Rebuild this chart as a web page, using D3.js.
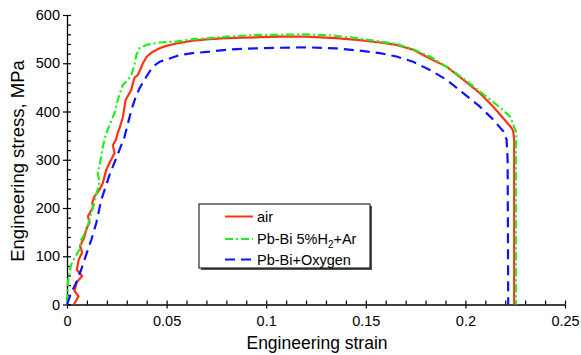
<!DOCTYPE html>
<html><head><meta charset="utf-8">
<script src="https://cdn.jsdelivr.net/npm/d3@7"></script>
<style>
html,body{margin:0;padding:0;background:#fff;}
svg{display:block;font-family:"Liberation Sans",Arial,Helvetica,sans-serif;}
</style></head>
<body>
<svg id="chart" width="581" height="355"></svg>
<script>
// ---- data ----
const seriesNames = ["air", "Pb-Bi 5%H2+Ar", "Pb-Bi+Oxygen"];
const airStrain = [0.0035,0.0058,0.0038,0.0049,0.0076,0.0049,0.0059,0.0076,0.0066,0.0088,0.0096,0.0113,0.0105,0.013,0.0127,0.0138,0.0163,0.018,0.0188,0.0197,0.0215,0.0239,0.023,0.0245,0.0255,0.0264,0.028,0.0289,0.0294,0.0323,0.0331,0.0339,0.0356,0.0364,0.0381,0.0401,0.0431,0.0465,0.0498,0.0549,0.0632,0.0716,0.08,0.0883,0.0967,0.1068,0.12,0.135,0.147,0.157,0.1654,0.1738,0.1822,0.1905,0.1989,0.2073,0.214,0.219,0.2232,0.224,0.2245,0.2245];
const airStress = [0,17,28,46,59,72,93,108,121,141,155,170,183,201,211,224,238,252,265,279,295,314,330,341,356,366,387,410,424,445,459,470,476,483,500,514,524,531,536,541,547,550,552,553,554,555,555,552,548,543,538,528,510,493,466,438,410,386,366,359,341,0];
const h2Strain = [0,0.0004,0.0013,0.0021,0.0038,0.0063,0.0071,0.0096,0.0113,0.0122,0.0138,0.0147,0.0163,0.0155,0.0172,0.018,0.0197,0.0214,0.0239,0.0255,0.028,0.0306,0.0323,0.0339,0.0348,0.0364,0.0398,0.0465,0.0549,0.0632,0.0716,0.08,0.0883,0.0967,0.1068,0.12,0.135,0.147,0.157,0.1654,0.1738,0.1822,0.1905,0.1989,0.2073,0.2157,0.2224,0.2257,0.2254,0.2254];
const h2Stress = [5,45,69,83,97,114,134,152,176,190,211,228,252,272,307,328,355,372,397,424,455,466,476,497,517,531,538,543,545,550,552,555,557,559,559,560,557,551,545,540,529,514,493,469,441,414,390,355,335,0];
const oxStrain = [0,0.0021,0.0046,0.0071,0.0096,0.0122,0.0147,0.0172,0.0214,0.0264,0.0289,0.0323,0.0345,0.0364,0.0398,0.0431,0.0465,0.0515,0.0565,0.0632,0.0716,0.08,0.0883,0.0967,0.1051,0.12,0.135,0.147,0.157,0.1654,0.1738,0.1822,0.1905,0.1989,0.2073,0.214,0.219,0.2207,0.2212,0.2215];
const oxStress = [0,24,45,72,103,134,169,217,269,321,348,403,430,448,472,493,503,510,517,521,524,528,530,531,532,533,531,526,521,514,503,486,466,438,410,383,359,341,300,0];
const xMajorTicks = [0,0.05,0.1,0.15,0.2,0.25];
const xTickLabels = ["0","0.05","0.1","0.15","0.2","0.25"];
const yMajorTicks = [0,100,200,300,400,500,600];
const yTickLabels = ["0","100","200","300","400","500","600"];

// ---- layout ----
const svg = d3.select("#chart");
const x = d3.scaleLinear().domain([0,0.25]).range([67,565]);
const y = d3.scaleLinear().domain([0,600]).range([304.5,15]);
const xMinor = d3.range(0,0.2501,0.01);
const yMinor = d3.range(0,601,20);

const axG = svg.append("g");
// inward ticks (all)
axG.append("g").attr("transform","translate(0,"+y(0)+")")
  .call(d3.axisBottom(x).tickValues(xMinor).tickSize(-4).tickSizeOuter(0).tickFormat(""))
  .call(g=>g.select(".domain").remove());
axG.append("g").attr("transform","translate("+x(0)+",0)")
  .call(d3.axisLeft(y).tickValues(yMinor).tickSize(-4).tickSizeOuter(0).tickFormat(""))
  .call(g=>g.select(".domain").remove());
// outward major ticks + labels
axG.append("g").attr("transform","translate(0,"+y(0)+")")
  .call(d3.axisBottom(x).tickValues(xMajorTicks).tickSizeInner(4).tickSizeOuter(0).tickPadding(7)
    .tickFormat((d,i)=>xTickLabels[i]));
axG.append("g").attr("transform","translate("+x(0)+",0)")
  .call(d3.axisLeft(y).tickValues(yMajorTicks).tickSizeInner(4).tickSizeOuter(0).tickPadding(3)
    .tickFormat((d,i)=>yTickLabels[i]));
axG.selectAll("text").attr("font-size","14.5px").attr("fill","#000").attr("font-family","Liberation Sans, Arial, sans-serif");
axG.selectAll("line").attr("stroke","#000").attr("stroke-width",1.2);
axG.selectAll(".domain").attr("stroke","#000").attr("stroke-width",1.3);

// axis titles
svg.append("text").attr("x",317).attr("y",349).attr("text-anchor","middle")
  .attr("font-size","17.5px").text("Engineering strain");
svg.append("text").attr("transform","translate(24,161) rotate(-90)").attr("text-anchor","middle")
  .attr("font-size","18.5px").text("Engineering stress, MPa");

// ---- curves ----
const line = d3.line().x(d=>x(d[0])).y(d=>y(d[1]));
const zip = (a,b)=>a.map((v,i)=>[v,b[i]]);
const styles = [
  {color:"#ff3311", dash:null},
  {color:"#22ee22", dash:"8,3,2,3"},
  {color:"#1111ff", dash:"10,6"}
];
const data = [zip(airStrain,airStress), zip(h2Strain,h2Stress), zip(oxStrain,oxStress)];
data.forEach((d,i)=>{
  svg.append("path").attr("d",line(d)).attr("fill","none")
    .attr("stroke",styles[i].color).attr("stroke-width",2.2)
    .attr("stroke-dasharray",styles[i].dash)
    .attr("stroke-linejoin","round");
});

// ---- legend ----
const lg = svg.append("g");
lg.append("rect").attr("x",201).attr("y",206).attr("width",171).attr("height",64).attr("fill","#555");
lg.append("rect").attr("x",199).attr("y",204).attr("width",171).attr("height",64)
  .attr("fill","#fff").attr("stroke","#000").attr("stroke-width",1);
const rowsY = [216.5,239,259.5];
seriesNames.forEach((n,i)=>{
  lg.append("line").attr("x1",225).attr("x2",253).attr("y1",rowsY[i]).attr("y2",rowsY[i])
    .attr("stroke",styles[i].color).attr("stroke-width",2).attr("stroke-dasharray",styles[i].dash);
  const t = lg.append("text").attr("x",257).attr("y",rowsY[i]+5).attr("font-size","14.5px");
  if (n.indexOf("H2")>=0){
    const p = n.split("H2");
    t.append("tspan").text(p[0]+"H");
    t.append("tspan").attr("font-size","10px").attr("dy",4).text("2");
    t.append("tspan").attr("dy",-4).text(p[1]);
  } else t.text(n);
});
</script>
</body></html>
